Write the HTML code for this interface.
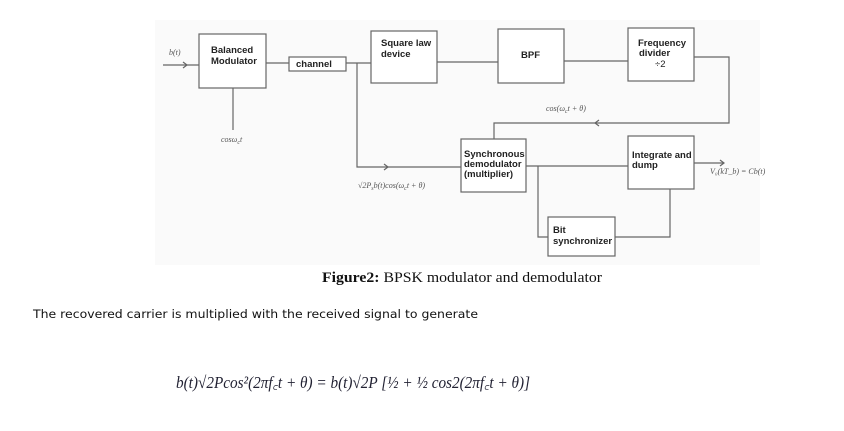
<!DOCTYPE html>
<html><head><meta charset="utf-8"><style>
html,body{margin:0;padding:0;background:#fff;width:844px;height:431px;overflow:hidden}
svg{display:block}
.b{fill:#fff;stroke:#666;stroke-width:1.2}
.l{fill:none;stroke:#666;stroke-width:1.2}
.t{font-family:"Liberation Sans",Arial,sans-serif;font-weight:bold;font-size:9.5px;fill:#222}
.m{font-family:"Liberation Serif",serif;font-style:italic;font-size:8px;fill:#555}
</style></head><body>
<svg width="844" height="431" viewBox="0 0 844 431">
<rect x="155" y="20" width="605" height="245" fill="#fafafa"/>
<g>
<path class="l" d="M163 65H199"/><path class="l" d="M183 62l4 3l-4 3"/>
<path class="l" d="M266 63H289"/><path class="l" d="M233 88V130"/>
<path class="l" d="M346 63H371"/><path class="l" d="M357 63V167H461"/><path class="l" d="M384 164l4 3l-4 3"/>
<path class="l" d="M437 62H498"/><path class="l" d="M564 61H628"/>
<path class="l" d="M694 57H729V123H494V139"/><path class="l" d="M599 120l-4 3l4 3"/>
<path class="l" d="M526 166H628"/><path class="l" d="M538 166V237H548"/>
<path class="l" d="M615 237H670V189"/>
<path class="l" d="M694 163H724"/><path class="l" d="M720 160l4 3l-4 3"/>
</g>
<rect class="b" x="199" y="34" width="67" height="54"/>
<text class="t" x="211" y="53"><tspan x="211">Balanced</tspan><tspan x="211" dy="11">Modulator</tspan></text>
<rect class="b" x="289" y="57" width="57" height="14"/>
<text class="t" x="296" y="67">channel</text>
<rect class="b" x="371" y="31" width="66" height="52"/>
<text class="t" x="381" y="46"><tspan x="381">Square law</tspan><tspan x="381" dy="11">device</tspan></text>
<rect class="b" x="498" y="29" width="66" height="54"/>
<text class="t" x="521" y="58">BPF</text>
<rect class="b" x="628" y="28" width="66" height="53"/>
<text class="t" x="638" y="46"><tspan x="638">Frequency</tspan><tspan x="639" dy="10">divider</tspan><tspan x="655" dy="11" font-weight="normal">÷2</tspan></text>
<rect class="b" x="461" y="139" width="65" height="53"/>
<text class="t" x="464" y="157" font-size="8.5"><tspan x="464">Synchronous</tspan><tspan x="464" dy="10">demodulator</tspan><tspan x="464" dy="10">(multiplier)</tspan></text>
<rect class="b" x="628" y="136" width="66" height="53"/>
<text class="t" x="632" y="158" font-size="8.5"><tspan x="632">Integrate and</tspan><tspan x="632" dy="10">dump</tspan></text>
<rect class="b" x="548" y="217" width="67" height="39"/>
<text class="t" x="553" y="233" font-size="8.5"><tspan x="553">Bit</tspan><tspan x="553" dy="11">synchronizer</tspan></text>
<text class="m" x="169" y="55">b(t)</text>
<text class="m" x="221" y="142">cosω<tspan font-size="6" dy="2">c</tspan><tspan dy="-2">t</tspan></text>
<text class="m" x="546" y="111">cos(ω<tspan font-size="6" dy="2">c</tspan><tspan dy="-2">t + θ)</tspan></text>
<text class="m" x="358" y="188">√2P<tspan font-size="6" dy="2">s</tspan><tspan dy="-2">b(t)cos(ω</tspan><tspan font-size="6" dy="2">c</tspan><tspan dy="-2">t + θ)</tspan></text>
<text class="m" x="710" y="174" font-size="5.5">V₀(kT_b) = Cb(t)</text>
<text x="322" y="282" font-family="Liberation Serif,serif" font-size="15" fill="#111" textLength="280" lengthAdjust="spacingAndGlyphs"><tspan font-weight="bold">Figure2:</tspan>   BPSK modulator and demodulator</text>
<text x="33" y="318" font-family="DejaVu Sans,sans-serif" font-size="11.5" fill="#111" textLength="445" lengthAdjust="spacingAndGlyphs">The recovered carrier is multiplied with the received signal to generate</text>
<text x="176" y="388" font-family="Liberation Serif,serif" font-style="italic" font-size="17" fill="#223" textLength="354" lengthAdjust="spacingAndGlyphs">b(t)√2Pcos²(2πf꜀t + θ) = b(t)√2P [½ + ½ cos2(2πf꜀t + θ)]</text>
</svg>
</body></html>
